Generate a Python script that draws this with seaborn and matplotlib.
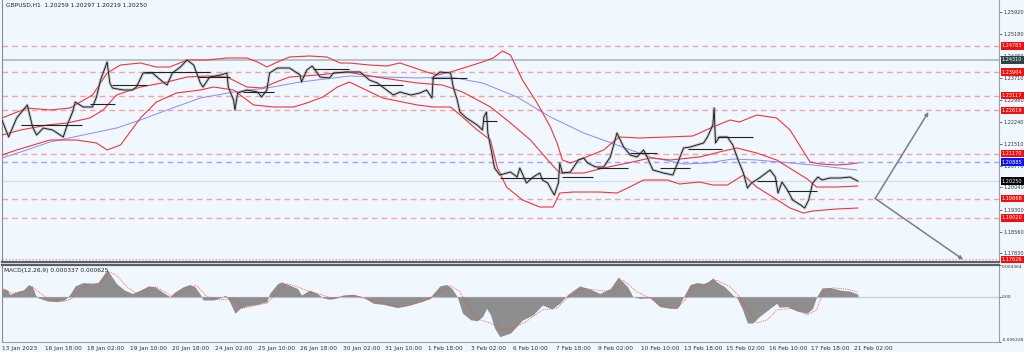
import matplotlib
matplotlib.use("Agg")
import matplotlib.pyplot as plt
import matplotlib.transforms as mtransforms
import numpy as np
import pandas as pd
import seaborn as sns

# GBPUSD H1, x = bar number counted from 13 Jan 2023 (32 bars between time labels)
price_bar = [0, 5, 11, 19, 23, 26, 31, 38, 46, 49, 53, 55, 61, 68, 71, 74, 79, 81, 83, 91,
             98, 101, 106, 113, 121, 124, 128, 134, 139, 144, 149, 151, 156, 164, 169, 170, 174, 175, 177, 184,
             192, 195, 199, 201, 207, 216, 224, 225, 229, 233, 239, 246, 249, 259, 269, 276, 282, 289, 294, 299,
             307, 314, 319, 323, 324, 329, 337, 339, 342, 344, 349, 357, 361, 362, 364, 365, 368, 370, 374, 382,
             387, 389, 394, 399, 404, 406, 410, 414, 415, 418, 419, 421, 427, 433, 437, 440, 446, 452, 457, 462,
             467, 472, 477, 482, 485, 489, 497, 504, 509, 512, 517, 527, 530, 534, 535, 536, 539, 545, 549, 553,
             557, 560, 563, 569, 577, 581, 583, 586, 590, 594, 600, 603, 606, 609, 613, 616, 622, 630, 637, 643]
price_val = [1.22297, 1.21728, 1.22364, 1.22800, 1.22063, 1.21795, 1.22029, 1.21962, 1.21728, 1.22130,
             1.22565, 1.22900, 1.22733, 1.22733, 1.23068, 1.23637, 1.24240, 1.23536, 1.23369, 1.23302,
             1.23302, 1.23402, 1.23871, 1.23871, 1.23570, 1.23469, 1.23871, 1.24072, 1.24307, 1.24139,
             1.23536, 1.23402, 1.23737, 1.23804, 1.23871, 1.23402, 1.22967, 1.22632, 1.23201, 1.23302,
             1.23235, 1.23068, 1.23302, 1.23871, 1.24039, 1.24039, 1.23804, 1.23570, 1.23972, 1.24106,
             1.23737, 1.23704, 1.23871, 1.23905, 1.23905, 1.23637, 1.23536, 1.23302, 1.23134, 1.23235,
             1.23134, 1.23201, 1.23302, 1.23034, 1.23737, 1.23905, 1.23871, 1.23402, 1.22967, 1.22565,
             1.22364, 1.22130, 1.21962, 1.22398, 1.22565, 1.21862, 1.21192, 1.20690, 1.20455, 1.20556,
             1.20388, 1.20690, 1.20187, 1.20388, 1.20522, 1.20288, 1.20187, 1.19852, 1.19785, 1.20187,
             1.20857, 1.20522, 1.20556, 1.20958, 1.21025, 1.20857, 1.20723, 1.20723, 1.21058, 1.21862,
             1.21393, 1.21125, 1.21058, 1.21293, 1.21025, 1.20623, 1.20522, 1.20455, 1.21025, 1.21360,
             1.21393, 1.21527, 1.21728, 1.22130, 1.22699, 1.21527, 1.21728, 1.21728, 1.21460, 1.20958,
             1.20522, 1.20020, 1.20187, 1.20355, 1.20623, 1.20388, 1.19852, 1.20221, 1.19953, 1.19618,
             1.19451, 1.19350, 1.19618, 1.20187, 1.20388, 1.20288, 1.20355, 1.20355, 1.20388, 1.20250]

# Bollinger bands
upper_bar = [0, 19, 36, 51, 68, 79, 89, 104, 116, 126, 139, 154, 169, 184, 192, 199, 207, 216, 231, 244,
             254, 261, 276, 289, 299, 319, 327, 337, 349, 361, 369, 376, 382, 391, 402, 412, 417, 421, 427, 437,
             452, 459, 464, 479, 500, 519, 534, 547, 554, 567, 582, 592, 600, 607, 615, 627, 637, 643]
upper_val = [1.22364, 1.22699, 1.22632, 1.22699, 1.23134, 1.23871, 1.24139, 1.24206, 1.24072, 1.24072,
             1.24307, 1.24307, 1.24374, 1.24374, 1.24240, 1.24072, 1.24240, 1.24407, 1.24441, 1.24407,
             1.24206, 1.24206, 1.24139, 1.24106, 1.24206, 1.23905, 1.23804, 1.23905, 1.24072, 1.24240,
             1.24374, 1.24608, 1.24474, 1.23637, 1.22867, 1.22063, 1.21527, 1.20958, 1.20857, 1.21025,
             1.21293, 1.21560, 1.21728, 1.21694, 1.21728, 1.21761, 1.22063, 1.22297, 1.22230, 1.22465,
             1.22364, 1.21962, 1.21393, 1.20891, 1.20824, 1.20790, 1.20824, 1.20857]
middle_bar = [0, 14, 34, 49, 66, 76, 86, 104, 124, 139, 154, 169, 184, 196, 204, 216, 237, 259, 286, 312,
              331, 346, 367, 382, 397, 412, 419, 437, 452, 470, 487, 502, 524, 539, 552, 567, 582, 594, 605, 612,
              627, 643]
middle_val = [1.21795, 1.21962, 1.22130, 1.22197, 1.22364, 1.22632, 1.23134, 1.23402, 1.23570, 1.23737,
              1.23771, 1.23737, 1.23402, 1.23369, 1.23536, 1.23737, 1.23804, 1.23905, 1.23704, 1.23536,
              1.23469, 1.23235, 1.22733, 1.22197, 1.21627, 1.20857, 1.20522, 1.20522, 1.20690, 1.20857,
              1.21025, 1.20958, 1.21058, 1.21226, 1.21360, 1.21192, 1.20958, 1.20623, 1.20321, 1.20053,
              1.20053, 1.20087]
lower_bar = [0, 11, 36, 56, 71, 79, 89, 104, 116, 131, 149, 159, 174, 189, 204, 219, 229, 241, 252, 261,
             286, 312, 324, 337, 346, 357, 367, 372, 379, 391, 404, 414, 419, 429, 449, 462, 470, 482, 500, 509,
             524, 534, 545, 557, 567, 579, 592, 602, 609, 627, 643]
lower_val = [1.21125, 1.21293, 1.21627, 1.21627, 1.21527, 1.21293, 1.21460, 1.22364, 1.22900, 1.23201,
             1.23302, 1.23402, 1.23302, 1.22800, 1.22733, 1.22733, 1.22867, 1.23068, 1.23402, 1.23570,
             1.23034, 1.22800, 1.22733, 1.22733, 1.22398, 1.21962, 1.21627, 1.20723, 1.20053, 1.19618,
             1.19384, 1.19384, 1.19852, 1.19886, 1.19886, 1.19852, 1.20020, 1.20288, 1.20288, 1.20154,
             1.20221, 1.20120, 1.20120, 1.20455, 1.20053, 1.19718, 1.19350, 1.19183, 1.19250, 1.19317,
             1.19350]

# slow moving average (blue)
ma_bar = [0, 14, 36, 61, 86, 104, 124, 149, 174, 199, 224, 249, 261, 312, 337, 361, 387, 412, 437, 462,
          487, 512, 530, 549, 567, 584, 609, 642]
ma_val = [1.21025, 1.21226, 1.21560, 1.21795, 1.22029, 1.22297, 1.22632, 1.23034, 1.23235, 1.23369,
          1.23570, 1.23704, 1.23771, 1.23704, 1.23737, 1.23536, 1.23068, 1.22398, 1.21862, 1.21460,
          1.21058, 1.20824, 1.20857, 1.20991, 1.20958, 1.20891, 1.20790, 1.20623]

# short horizontal black range lines
seg_start = [14, 66, 83, 107, 147, 181, 234, 276, 322, 361, 374, 421, 447, 472, 494, 515, 537, 567, 590]
seg_end = [60, 85, 109, 156, 171, 204, 261, 301, 349, 372, 417, 444, 470, 492, 517, 541, 564, 582, 612]
seg_price = [1.22130, 1.22833, 1.23469, 1.23905, 1.23737, 1.23235, 1.24005, 1.23469, 1.23704, 1.22264,
             1.20355, 1.20388, 1.20690, 1.21192, 1.20690, 1.21326, 1.21728, 1.20254, 1.19919]

# horizontal levels
red_levels = [1.24783, 1.23904, 1.23117, 1.22619, 1.21170, 1.19668, 1.19020]
blue_level = 1.20885
gray_level = 1.24310
bid_level = 1.20250
low_level = 1.17626

# projection arrows: start, up target, down target
proj_bar = [656, 696, 722]
proj_price = [1.19668, 1.22565, 1.17626]

# MACD(12,26,9)
macd_bar = [0, 4, 6, 11, 16, 20, 23, 25, 27, 34, 41, 47, 51, 55, 61, 68, 72, 76, 79, 81,
            86, 92, 98, 104, 110, 115, 121, 126, 130, 136, 141, 145, 149, 151, 159, 164, 168, 171, 175, 179,
            184, 192, 199, 201, 207, 210, 216, 222, 225, 231, 237, 241, 246, 252, 256, 264, 271, 279, 286, 297,
            307, 316, 322, 324, 329, 334, 338, 342, 346, 352, 357, 361, 364, 367, 370, 374, 382, 387, 391, 399,
            406, 413, 419, 425, 434, 442, 449, 457, 463, 470, 474, 479, 487, 494, 502, 507, 509, 512, 517, 522,
            527, 530, 534, 537, 543, 549, 552, 556, 560, 564, 569, 577, 582, 584, 590, 597, 605, 609, 612, 616,
            622, 630, 637, 643]
macd_val = [0.00113, 0.00091, 0.00032, 0.00068, 0.00091, 0.00168, 0.00136, 0.00032, -0.00014, -0.00059,
            -0.00068, -0.00045, 0.00032, 0.00149, 0.00195, 0.00181, 0.00195, 0.00294, 0.00376, 0.00317,
            0.00181, 0.00091, 0.00045, 0.00091, 0.00149, 0.00136, 0.00059, 0.0, 0.00068, 0.00136,
            0.00168, 0.00136, 0.00032, -0.00045, -0.00045, -0.00014, 0.00023, -0.00068, -0.00227, -0.00159,
            -0.00127, -0.00104, -0.00068, 0.00045, 0.00181, 0.00204, 0.00159, 0.00113, 0.00023, 0.00091,
            0.00045, -0.00014, -0.00035, -0.00014, 0.00023, 0.00032, 0.0, -0.00091, -0.00104, -0.00150,
            -0.00113, -0.00059, -0.00023, 0.00045, 0.00149, 0.00168, 0.00113, 0.0, -0.00227, -0.00317,
            -0.00331, -0.00272, -0.00159, -0.00249, -0.00430, -0.00550, -0.00500, -0.00400, -0.00320, -0.00249,
            -0.00113, -0.00168, -0.00091, 0.00032, 0.00149, 0.00104, 0.00045, 0.00113, 0.00272, 0.00136,
            0.0, -0.00023, -0.00014, -0.00136, -0.00159, -0.00159, -0.00113, 0.0, 0.00168, 0.00195,
            0.00181, 0.00204, 0.00258, 0.00204, 0.00136, 0.00023, -0.00014, -0.00159, -0.00362, -0.00362,
            -0.00272, -0.00159, -0.00091, -0.00145, -0.00136, -0.00195, -0.00227, -0.00159, 0.0, 0.00122,
            0.00127, 0.00091, 0.00077, 0.00034]
signal_bar = [0, 8, 19, 23, 29, 36, 46, 53, 59, 66, 74, 81, 86, 94, 101, 109, 116, 124, 128, 139,
              146, 154, 164, 174, 181, 192, 199, 207, 214, 222, 231, 241, 249, 254, 264, 276, 291, 301, 316, 327,
              337, 344, 352, 359, 367, 376, 384, 394, 406, 417, 425, 437, 447, 459, 467, 477, 487, 497, 507, 515,
              519, 530, 537, 547, 553, 560, 567, 575, 582, 594, 605, 612, 617, 624, 635, 643]
signal_val = [0.00122, 0.00045, 0.00091, 0.00136, 0.00045, -0.00045, -0.00068, -0.00023, 0.00113, 0.00181,
              0.00181, 0.00340, 0.00294, 0.00136, 0.00045, 0.00113, 0.00136, 0.00045, 0.0, 0.00113,
              0.00159, 0.0, -0.00045, -0.00023, -0.00159, -0.00113, -0.00091, 0.00068, 0.00181, 0.00136,
              0.00068, 0.00023, -0.00032, 0.0, 0.00023, -0.00045, -0.00113, -0.00136, -0.00068, 0.00045,
              0.00149, 0.00068, -0.00181, -0.00317, -0.00362, -0.00453, -0.00430, -0.00340, -0.00180, -0.00159,
              -0.00014, 0.00113, 0.00091, 0.00068, 0.00227, 0.00068, -0.00023, -0.00136, -0.00168, 0.0,
              0.00136, 0.00168, 0.00227, 0.00136, 0.00023, -0.00159, -0.00362, -0.00317, -0.00181, -0.00159,
              -0.00249, -0.00181, 0.00068, 0.00122, 0.00104, 0.00063]

price_ticks = [1.25920, 1.25180, 1.24450, 1.23710, 1.22980, 1.22240, 1.21510, 1.20770, 1.20040,
               1.19300, 1.18560, 1.17830]
time_labels = ["13 Jan 2023", "16 Jan 18:00", "18 Jan 02:00", "19 Jan 10:00", "20 Jan 18:00",
               "24 Jan 02:00", "25 Jan 10:00", "26 Jan 18:00", "30 Jan 02:00", "31 Jan 10:00",
               "1 Feb 18:00", "3 Feb 02:00", "6 Feb 10:00", "7 Feb 18:00", "9 Feb 02:00",
               "10 Feb 10:00", "13 Feb 18:00", "15 Feb 02:00", "16 Feb 10:00", "17 Feb 18:00",
               "21 Feb 02:00"]
time_bars = list(range(0, 32 * len(time_labels), 32))

sns.set_style("white")
plt.rcParams["font.family"] = ["DejaVu Sans"]

BG = "#F0F7FF"
fig = plt.figure(figsize=(10.24, 3.52), dpi=100, facecolor=BG)
ax = fig.add_axes([2 / 1024, 90 / 352, 997 / 1024, 262 / 352], facecolor=BG)
mx = fig.add_axes([2 / 1024, 10 / 352, 997 / 1024, 77 / 352], facecolor=BG, sharex=ax)

# levels
for lv in red_levels:
    ax.axhline(lv, color="#F3A3A6", ls=(0, (4, 3)), lw=1, zorder=1)
ax.axhline(blue_level, color="#A5A5F5", ls=(0, (4, 3)), lw=1, zorder=1)
ax.axhline(gray_level, color="#B4BEC8", lw=1.3, zorder=1)
ax.axhline(bid_level, color="#D6DDE5", lw=0.9, zorder=1)
ax.axhline(low_level, color="#F08080", ls=(0, (1, 2)), lw=0.8, zorder=1)

# indicators
sns.lineplot(x=ma_bar, y=ma_val, ax=ax, color="#8C8CF5", lw=0.7, zorder=2)
for bx, bv in [(upper_bar, upper_val), (middle_bar, middle_val), (lower_bar, lower_val)]:
    sns.lineplot(x=bx, y=bv, ax=ax, color="#F23535", lw=0.8, zorder=3)

# price
sns.lineplot(x=price_bar, y=price_val, ax=ax, color="#9A9A9A", lw=2.0, alpha=0.55, zorder=4)
sns.lineplot(x=price_bar, y=price_val, ax=ax, color="#111111", lw=0.6, zorder=5)
ax.hlines(seg_price, seg_start, seg_end, color="#222222", lw=0.8, zorder=5)

# projections
for tgt in (1, 2):
    mid_b = (proj_bar[0] + proj_bar[tgt]) / 2
    mid_p = (proj_price[0] + proj_price[tgt]) / 2
    ax.annotate("", xy=(proj_bar[tgt], proj_price[tgt]), xytext=(proj_bar[0], proj_price[0]),
                arrowprops=dict(arrowstyle="-|>", color="#7F7F7F", lw=1.1, mutation_scale=5,
                                shrinkA=0, shrinkB=0), zorder=6)
    ax.annotate("", xy=(mid_b, mid_p), xytext=(proj_bar[0], proj_price[0]),
                arrowprops=dict(arrowstyle="-|>", color="#7F7F7F", lw=0, mutation_scale=4,
                                shrinkA=0, shrinkB=0), zorder=6)

ax.set_xlim(0, 749)
ax.set_ylim(1.17542, 1.26316)
ax.set_xlabel("")
ax.set_ylabel("")
ax.yaxis.tick_right()
ax.set_yticks(price_ticks)
ax.set_yticklabels([f"{t:.5f}" for t in price_ticks])
ax.tick_params(axis="y", labelsize=3.6, colors="#333333", length=2, width=0.5, pad=1)
ax.tick_params(axis="x", bottom=False, labelbottom=False)

blend = mtransforms.blended_transform_factory(ax.transAxes, ax.transData)
tags = [(lv, "#F01010") for lv in red_levels] + [(low_level, "#F01010"), (gray_level, "#2F4448"),
                                                   (blue_level, "#1010F0"), (bid_level, "#000000")]
for lv, col in tags:
    ax.text(1.003, lv, f"{lv:.5f}", transform=blend, fontsize=3.6, color="white", va="center", ha="left",
            bbox=dict(boxstyle="square,pad=0.25", fc=col, ec="none"), clip_on=False, zorder=10)

ax.text(0.004, 0.988, "GBPUSD,H1  1.20259 1.20297 1.20219 1.20250", transform=ax.transAxes,
        fontsize=4.2, va="top", ha="left", color="#222222")

ax.spines["top"].set_visible(False)
ax.spines["left"].set_color("#8C8C8C")
ax.spines["right"].set_color("#9AA0A6")
ax.spines["bottom"].set_color("#5A5F66")
ax.spines["bottom"].set_linewidth(1.6)

# MACD panel
mx.axhline(0, color="#C9D1DA", lw=1, zorder=1)
mx.fill_between(macd_bar, 0, macd_val, color="#8E8E8E", lw=0, zorder=2)
sns.lineplot(x=signal_bar, y=signal_val, ax=mx, color="#F04848", lw=0.6, ls=(0, (1, 1.2)), zorder=3)
mx.set_ylim(-0.006228, 0.004364)
mx.set_xlim(0, 749)
mx.set_xlabel("")
mx.set_ylabel("")
mx.yaxis.tick_right()
mx.set_yticks([0.004364, 0.0, -0.006228])
mx.set_yticklabels(["0.004364", "0.00", "-0.006228"])
mx.tick_params(axis="y", labelsize=3.2, colors="#333333", length=1.5, width=0.5, pad=0.5)
ylabs = mx.get_yticklabels()
ylabs[0].set_va("top")
ylabs[2].set_va("bottom")
mx.set_xticks(time_bars)
mx.set_xticklabels(time_labels, ha="left")
mx.tick_params(axis="x", labelsize=4.2, colors="#333333", length=2, width=0.5, pad=1)
mx.text(0.002, 0.96, "MACD(12,26,9) 0.000337 0.000625", transform=mx.transAxes, fontsize=4.2,
        va="top", ha="left", color="#222222")
mx.spines["top"].set_color("#5A5F66")
mx.spines["top"].set_linewidth(1.6)
mx.spines["left"].set_color("#8C8C8C")
mx.spines["right"].set_color("#9AA0A6")
mx.spines["bottom"].set_color("#9AA0A6")

fig.savefig("out.png", dpi=100, facecolor=BG)
